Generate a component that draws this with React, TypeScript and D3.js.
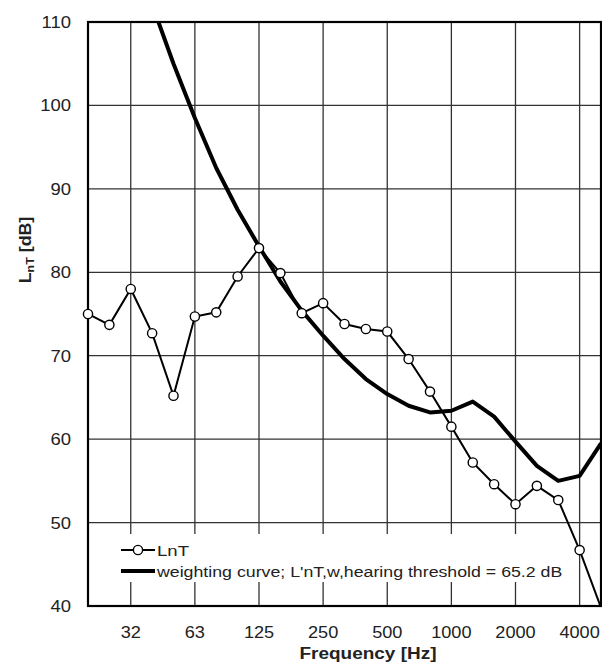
import React from "react";
import * as d3 from "d3";

// One-third octave band centre frequencies (Hz)
const bands = [
  "20", "25", "31.5", "40", "50", "63", "80", "100", "125", "160", "200", "250",
  "315", "400", "500", "630", "800", "1000", "1250", "1600", "2000", "2500",
  "3150", "4000", "5000",
];

// Measured normalised impact sound pressure level LnT (dB)
const lnT = [
  75.0, 73.7, 78.0, 72.7, 65.2, 74.7, 75.2, 79.5, 82.9, 79.9, 75.1, 76.3,
  73.8, 73.2, 72.9, 69.6, 65.7, 61.5, 57.2, 54.6, 52.2, 54.4, 52.7, 46.7, 39.8,
];

// Shifted hearing-threshold weighting curve (dB)
const weighting = [
  139.5, 129.7, 120.5, 112.1, 105.0, 98.5, 92.5, 87.5, 83.1, 78.9, 75.4, 72.4,
  69.6, 67.2, 65.4, 64.0, 63.2, 63.4, 64.5, 62.7, 59.7, 56.8, 55.0, 55.6, 59.5,
];

// Octave bands that carry a label and a vertical grid line
const octaveBands = ["31.5", "63", "125", "250", "500", "1000", "2000", "4000"];
const octaveLabels = ["32", "63", "125", "250", "500", "1000", "2000", "4000"];

const yTicks = [40, 50, 60, 70, 80, 90, 100, 110];

const W = 602;
const H = 664;
const left = 88;
const right = 601;
const top = 22;
const bottom = 606;
const font = "'Liberation Sans', Arial, sans-serif";
const textColor = "#222";

type TxtProps = {
  x: number;
  y: number;
  sx?: number;
  anchor?: "start" | "middle" | "end";
  size: number;
  bold?: boolean;
  dy?: string;
  children: React.ReactNode;
};

// Text drawn with a slight horizontal stretch around its anchor point
function Txt({ x, y, sx = 1, anchor = "start", size, bold, dy, children }: TxtProps) {
  return (
    <text
      transform={`translate(${x},${y}) scale(${sx},1)`}
      textAnchor={anchor}
      fontSize={size}
      fontWeight={bold ? "bold" : "normal"}
      fill={textColor}
      dy={dy}
    >
      {children}
    </text>
  );
}

export default function App() {
  const x = d3.scalePoint<string>().domain(bands).range([left, right]).padding(0);
  const y = d3.scaleLinear().domain([40, 110]).range([bottom, top]);

  const line = d3
    .line<number>()
    .x((_, i) => x(bands[i]) as number)
    .y((d) => y(d));

  return (
    <svg
      width={W}
      height={H}
      style={{ position: "absolute", left: 0, top: 0, background: "#fff" }}
      fontFamily={font}
    >
      <defs>
        <clipPath id="plot-clip">
          <rect x={left} y={top} width={right - left} height={bottom - top} />
        </clipPath>
      </defs>

      {/* grid */}
      <g stroke="#333" strokeWidth={1.3}>
        {yTicks.map((t) => (
          <line key={t} x1={left} x2={right} y1={y(t)} y2={y(t)} />
        ))}
        {octaveBands.map((b) => (
          <line key={b} x1={x(b)} x2={x(b)} y1={top} y2={bottom} />
        ))}
      </g>

      {/* legend background */}
      <rect x={98} y={534} width={467} height={48} fill="#fff" />

      <g clipPath="url(#plot-clip)">
        <path d={line(weighting) ?? ""} fill="none" stroke="#000" strokeWidth={4} strokeLinejoin="round" />
        <path d={line(lnT) ?? ""} fill="none" stroke="#000" strokeWidth={2} />
      </g>

      {/* frame */}
      <rect
        x={left}
        y={top}
        width={right - left}
        height={bottom - top}
        fill="none"
        stroke="#000"
        strokeWidth={2.2}
      />

      {/* LnT markers */}
      {lnT.map((v, i) =>
        v >= 40 ? (
          <circle
            key={i}
            cx={x(bands[i]) as number}
            cy={y(v)}
            r={4.6}
            fill="#fff"
            stroke="#000"
            strokeWidth={1.4}
          />
        ) : null
      )}

      {/* y tick labels */}
      {yTicks.map((t) => (
        <Txt key={t} x={71} y={y(t)} sx={1.12} anchor="end" size={16.5} dy="0.36em">
          {t}
        </Txt>
      ))}

      {/* x tick labels */}
      {octaveBands.map((b, i) => (
        <Txt key={b} x={x(b) as number} y={638} sx={1.1} anchor="middle" size={16.5}>
          {octaveLabels[i]}
        </Txt>
      ))}

      {/* axis titles */}
      <Txt x={368} y={659} sx={1.15} anchor="middle" size={16.5} bold>
        Frequency [Hz]
      </Txt>
      <text
        transform="translate(30.5,250) rotate(-90) scale(1.08,1)"
        fontSize={16.5}
        fontWeight="bold"
        fill={textColor}
        textAnchor="middle"
      >
        L<tspan fontSize={11.5} dy={3}>nT</tspan>
        <tspan dy={-3}> [dB]</tspan>
      </text>

      {/* legend */}
      <line x1={121} x2={155} y1={550} y2={550} stroke="#000" strokeWidth={2} />
      <circle cx={138} cy={550} r={4.6} fill="#fff" stroke="#000" strokeWidth={1.4} />
      <Txt x={157} y={550} sx={1.2} size={15.5} dy="0.36em">
        LnT
      </Txt>
      <line x1={121} x2={155} y1={571} y2={571} stroke="#000" strokeWidth={4} />
      <Txt x={157} y={571} sx={1.145} size={15.5} dy="0.36em">
        weighting curve; L'nT,w,hearing threshold = 65.2 dB
      </Txt>
    </svg>
  );
}
